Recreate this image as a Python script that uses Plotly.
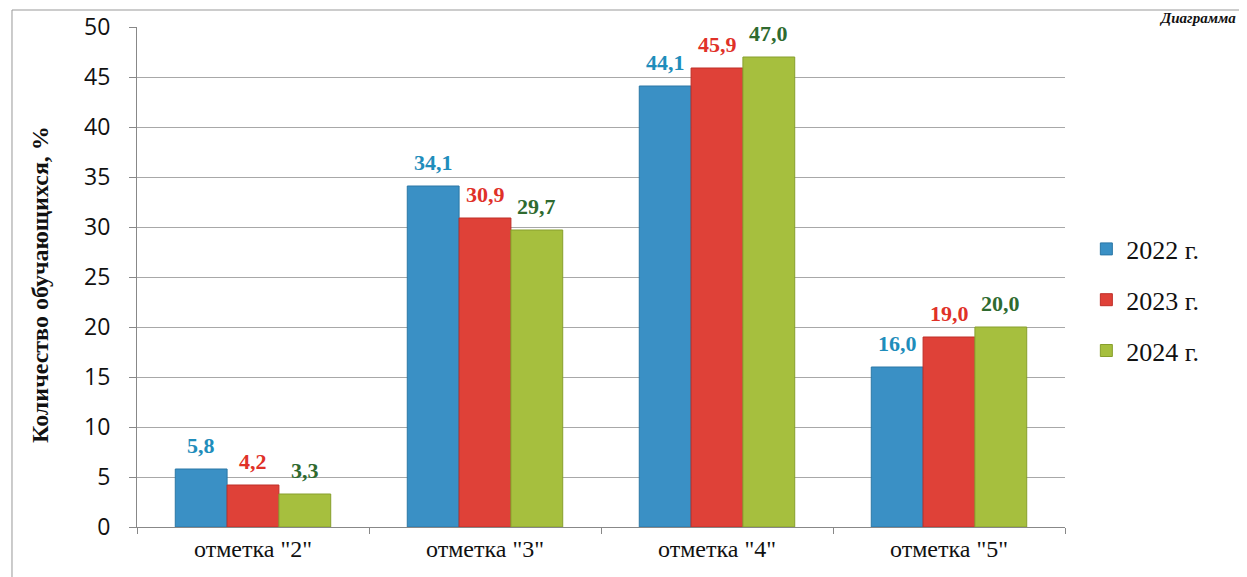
import plotly.graph_objects as go

categories = ['отметка "2"', 'отметка "3"', 'отметка "4"', 'отметка "5"']
years = ["2022 г.", "2023 г.", "2024 г."]
values_2022 = [5.8, 34.1, 44.1, 16.0]
values_2023 = [4.2, 30.9, 45.9, 19.0]
values_2024 = [3.3, 29.7, 47.0, 20.0]
y_ticks = [0, 5, 10, 15, 20, 25, 30, 35, 40, 45, 50]

bar_colors = ["#3a90c5", "#df4138", "#a6bf3e"]
edge_colors = ["#2a77a6", "#bf2e27", "#879f2c"]
label_colors = ["#1f8dbb", "#e03128", "#2f6a2f"]

# page body has an 8px margin: figure sized/offset to compensate
W, H = 1239, 569
fig = go.Figure()
annots = []
bar_px = 51.8
for i, (name, vals, bc, ec, lc) in enumerate(zip(years, [values_2022, values_2023, values_2024],
                                                 bar_colors, edge_colors, label_colors)):
    fig.add_trace(go.Bar(
        x=categories, y=vals, name=name, legendgroup=name,
        marker=dict(color=bc, line=dict(color=ec, width=1)),
    ))
    for c, v in zip(categories, vals):
        annots.append(dict(
            x=c, y=v, xref="x", yref="y", text=f"{v:.1f}".replace(".", ","),
            showarrow=False, xanchor="center", yanchor="bottom",
            xshift=(i - 1) * bar_px, yshift=9,
            font=dict(family="Liberation Serif", size=22, color=lc, weight="bold"),
        ))

annots += [
    dict(text="<b>Количество обучающихся, %</b>", xref="paper", yref="paper",
         x=-0.1045, y=0.484, xanchor="center", yanchor="middle", textangle=-90,
         showarrow=False,
         font=dict(family="Liberation Serif", size=24, color="#111")),
    dict(text="<b><i>Диаграмма</i></b>", xref="paper", yref="paper",
         x=1.186, y=1.038, xanchor="right", yanchor="top", showarrow=False,
         font=dict(family="Liberation Serif", size=15, color="#111")),
]

fig.update_layout(
    width=W, height=H,
    margin=dict(l=129, r=182, t=19, b=50, autoexpand=False),
    paper_bgcolor="white", plot_bgcolor="white",
    barmode="group", bargap=0.33, bargroupgap=0,
    showlegend=True,
    legend=dict(x=1.023, y=0.454, xanchor="left", yanchor="middle",
                font=dict(family="Liberation Serif", size=26, color="#111"),
                tracegroupgap=14, itemwidth=30),
    xaxis=dict(type="category", showgrid=False, showline=True, linecolor="#888",
               linewidth=1, ticks="outside", tickson="boundaries", ticklen=6,
               tickcolor="#888", automargin=False,
               tickfont=dict(family="Liberation Serif", size=24, color="#111")),
    yaxis=dict(range=[0, 50], tickvals=y_ticks, showgrid=True, gridcolor="#a8a8a8",
               gridwidth=1, showline=True, linecolor="#888", linewidth=1,
               ticks="outside", ticklen=7, tickcolor="#888", automargin=False,
               ticklabelstandoff=14,
               tickfont=dict(family="Open Sans", size=23, color="#111"),
               zeroline=False),
    shapes=[
        dict(type="line", xref="paper", yref="paper", x0=-0.1347, x1=1.2, y0=1.034, y1=1.034,
             line=dict(color="#999", width=1)),
        dict(type="line", xref="paper", yref="paper", x0=-0.1347, x1=-0.1347, y0=1.034, y1=-0.1,
             line=dict(color="#999", width=1)),
    ],
    annotations=annots,
)

fig.write_html("out.html")
